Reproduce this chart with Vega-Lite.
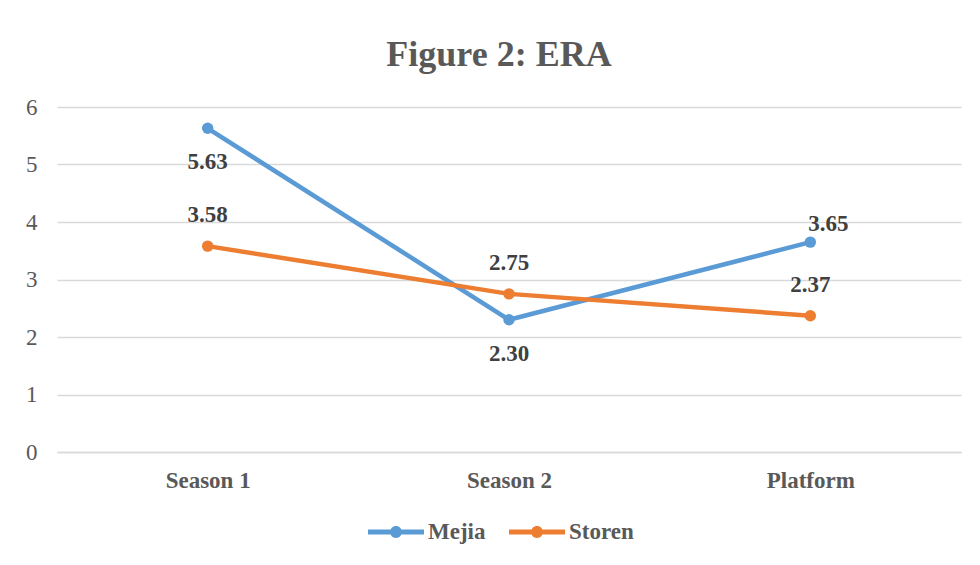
{
  "$schema": "https://vega.github.io/schema/vega-lite/v6.json",
  "width": 904,
  "height": 345,
  "autosize": {"type": "none"},
  "padding": {"left": 57, "top": 107, "right": 19, "bottom": 113},
  "background": "white",
  "config": {
    "view": {"stroke": null},
    "font": "Liberation Serif"
  },
  "title": {
    "text": "Figure 2: ERA",
    "font": "Liberation Serif",
    "fontSize": 36,
    "fontWeight": "bold",
    "color": "#595959",
    "anchor": "middle",
    "dx": -10,
    "baseline": "alphabetic",
    "offset": -6
  },
  "data": {
    "values": [
      {"pitcher": "Mejia", "period": "Season 1", "era": 5.63},
      {"pitcher": "Mejia", "period": "Season 2", "era": 2.30},
      {"pitcher": "Mejia", "period": "Platform", "era": 3.65},
      {"pitcher": "Storen", "period": "Season 1", "era": 3.58},
      {"pitcher": "Storen", "period": "Season 2", "era": 2.75},
      {"pitcher": "Storen", "period": "Platform", "era": 2.37}
    ]
  },
  "encoding": {
    "x": {
      "field": "period",
      "type": "nominal",
      "sort": ["Season 1", "Season 2", "Platform"],
      "scale": {"type": "point", "padding": 0.5},
      "axis": {
        "title": null,
        "labelAngle": 0,
        "labelFont": "Liberation Serif",
        "labelFontSize": 23,
        "labelFontWeight": "bold",
        "labelColor": "#595959",
        "labelPadding": 17,
        "ticks": false,
        "domain": true,
        "domainColor": "#D9D9D9",
        "domainWidth": 1.5,
        "grid": false
      }
    },
    "y": {
      "field": "era",
      "type": "quantitative",
      "scale": {"domain": [0, 6], "nice": false, "zero": true},
      "axis": {
        "title": null,
        "values": [0, 1, 2, 3, 4, 5, 6],
        "labelFont": "Liberation Serif",
        "labelFontSize": 23,
        "labelColor": "#595959",
        "labelPadding": 20,
        "ticks": false,
        "domain": false,
        "grid": true,
        "gridColor": "#D9D9D9",
        "gridWidth": 1.5
      }
    }
  },
  "layer": [
    {
      "mark": {
        "type": "line",
        "strokeWidth": 4.5,
        "strokeCap": "round",
        "point": {"filled": true, "size": 130, "opacity": 1}
      },
      "encoding": {
        "color": {
          "field": "pitcher",
          "type": "nominal",
          "scale": {"domain": ["Mejia", "Storen"], "range": ["#5B9BD5", "#ED7D31"]},
          "legend": {
            "title": null,
            "orient": "none",
            "legendX": 311,
            "legendY": 397,
            "direction": "horizontal",
            "symbolType": "M-1,-0.09 L1,-0.09 L1,0.09 L-1,0.09 Z M0.214,0 A0.214,0.214 0 1,1 -0.214,0 A0.214,0.214 0 1,1 0.214,0 Z",
            "symbolSize": 3136,
            "symbolStrokeWidth": 0,
            "symbolOpacity": 1,
            "labelFont": "Liberation Serif",
            "labelFontSize": 23,
            "labelFontWeight": "bold",
            "labelColor": "#595959",
            "labelOffset": 4,
            "columnPadding": 23
          }
        }
      }
    },
    {
      "transform": [{"filter": "datum.pitcher === 'Mejia' && datum.period !== 'Platform'"}],
      "mark": {"type": "text", "fontSize": 23, "fontWeight": "bold", "font": "Liberation Serif", "color": "#404040", "baseline": "middle", "dy": 34},
      "encoding": {"text": {"field": "era", "type": "quantitative", "format": ".2f"}}
    },
    {
      "transform": [{"filter": "datum.pitcher === 'Storen'"}],
      "mark": {"type": "text", "fontSize": 23, "fontWeight": "bold", "font": "Liberation Serif", "color": "#404040", "baseline": "middle", "dy": -31},
      "encoding": {"text": {"field": "era", "type": "quantitative", "format": ".2f"}}
    },
    {
      "transform": [{"filter": "datum.pitcher === 'Mejia' && datum.period === 'Platform'"}],
      "mark": {"type": "text", "fontSize": 23, "fontWeight": "bold", "font": "Liberation Serif", "color": "#404040", "baseline": "middle", "dx": 18, "dy": -18},
      "encoding": {"text": {"field": "era", "type": "quantitative", "format": ".2f"}}
    }
  ]
}
